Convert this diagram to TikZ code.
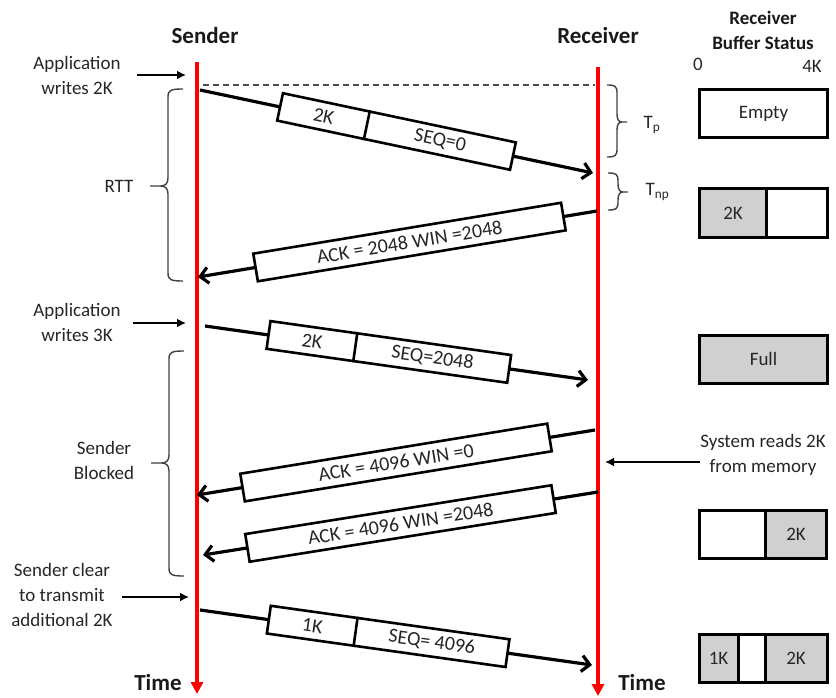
\documentclass[tikz,border=0pt]{standalone}
\usepackage{fontspec}
\setmainfont{Carlito}
\usetikzlibrary{arrows.meta,calc}
\definecolor{bufgray}{RGB}{208,208,208}
\newcommand\mybrace[6]{%
  \draw[brc] (#1,#2) .. controls ({#1+0.8*(#5)},#2) and ({#1+(#5)},{#2+1}) .. ({#1+(#5)},{#2+8})
    -- ({#1+(#5)},{#4-8}) .. controls ({#1+(#5)},{#4-2}) and ({#1+1.2*(#5)},#4) .. ({#1+1.5*(#5)},#4)
    -- ({#1+(#6)},#4) -- ({#1+1.5*(#5)},#4)
    .. controls ({#1+1.2*(#5)},#4) and ({#1+(#5)},{#4+2}) .. ({#1+(#5)},{#4+8})
    -- ({#1+(#5)},{#3-8}) .. controls ({#1+(#5)},{#3-1}) and ({#1+0.8*(#5)},#3) .. (#1,#3);}
\begin{document}
\begin{tikzpicture}[x=1pt,y=-1pt,
  lifeline/.style={draw=red, line width=3.5pt, -{Triangle[length=12pt,width=12pt]}},
  msg/.style={line width=3.2pt, -{Straight Barb[length=8pt,width=16pt]}},
  pkt/.style={draw, line width=2.6pt, fill=white, minimum height=28pt, inner sep=0pt,
              font=\fontsize{20}{24}\selectfont, text=black!85, sloped},
  pkttxt/.style={inner sep=1pt, font=\fontsize{20}{24}\selectfont, text=black!85, sloped},
  lbl/.style={font=\fontsize{19}{25}\selectfont, align=center, text=black!85},
  ttl/.style={font=\bfseries\fontsize{23}{28}\selectfont, text=black!90},
  note/.style={line width=1.8pt, -{Latex[length=9pt,width=9pt]}},
  brc/.style={draw=black!75, line width=1.4pt},
  buf/.style={draw, line width=3pt, minimum height=48pt, inner sep=0pt,
              font=\fontsize{19}{24}\selectfont, text=black!85}]
\useasboundingbox (0,0) rectangle (836,698);

% titles
\node[ttl] (tsend) at (205,36) {Sender};
\node[ttl] (trecv) at (598,36) {Receiver};
\node[ttl] (time1) at (158,683) {Time};
\node[ttl] (time2) at (642,683) {Time};
\node[font=\bfseries\fontsize{19}{25}\selectfont, align=center, text=black!90] (bhead) at (763,30) {Receiver\\Buffer Status};
\node[font=\fontsize{19}{24}\selectfont, text=black!85] (b0) at (698,64) {0};
\node[font=\fontsize{19}{24}\selectfont, text=black!85] (b4k) at (812,66) {4K};

% lifelines
\coordinate (s0) at (197,62); \coordinate (s9) at (197,694);
\coordinate (r0) at (598,67); \coordinate (r9) at (598,696);
\draw[lifeline] (s0) -- (s9);
\draw[lifeline] (r0) -- (r9);

% dashed reference line
\coordinate (d1) at (203,85); \coordinate (d2) at (595,85);
\draw[dashed, dash pattern=on 6pt off 4pt, line width=1.3pt, black!70] (d1) -- (d2);

% message 1
\coordinate (m1a) at (200,90); \coordinate (m1b) at (593,173);
\draw[msg] (m1a) -- (m1b) node[pkt, pos=0.5, minimum width=238pt] (p1) {}
  node[pkttxt, pos=0.3146] (p1a) {2K}
  node[pkttxt, pos=0.6108] (p1b) {SEQ=0};
\draw[line width=2.6pt] ($(p1.north west)!0.374!(p1.north east)$) -- ($(p1.south west)!0.374!(p1.south east)$);

% message 2
\coordinate (m2a) at (597,211); \coordinate (m2b) at (198,277);
\draw[msg] (m2a) -- (m2b) node[pkt, pos=0.47, minimum width=312pt] (p2) {ACK = 2048 WIN =2048};

% message 3
\coordinate (m3a) at (205,326); \coordinate (m3b) at (588,380);
\draw[msg] (m3a) -- (m3b) node[pkt, pos=0.48, minimum width=243pt] (p3) {}
  node[pkttxt, pos=0.2797] (p3a) {2K}
  node[pkttxt, pos=0.5938] (p3b) {SEQ=2048};
\draw[line width=2.6pt] ($(p3.north west)!0.362!(p3.north east)$) -- ($(p3.south west)!0.362!(p3.south east)$);

% message 4
\coordinate (m4a) at (595,430); \coordinate (m4b) at (197,495);
\draw[msg] (m4a) -- (m4b) node[pkt, pos=0.5, minimum width=311pt] (p4) {ACK = 4096 WIN =0};

% message 5
\coordinate (m5a) at (598,492); \coordinate (m5b) at (203,555);
\draw[msg] (m5a) -- (m5b) node[pkt, pos=0.5, minimum width=310pt] (p5) {ACK = 4096 WIN =2048};

% message 6
\coordinate (m6a) at (200,610); \coordinate (m6b) at (592,665);
\draw[msg] (m6a) -- (m6b) node[pkt, pos=0.48, minimum width=241pt] (p6) {}
  node[pkttxt, pos=0.2868] (p6a) {1K}
  node[pkttxt, pos=0.5912] (p6b) {SEQ= 4096};
\draw[line width=2.6pt] ($(p6.north west)!0.365!(p6.north east)$) -- ($(p6.south west)!0.365!(p6.south east)$);

% left annotations
\node[lbl] (app2) at (77,75) {Application\\writes 2K};
\coordinate (a2s) at (137,75); \coordinate (a2e) at (186,75);
\draw[note] (a2s) -- (a2e);
\node[lbl] (app3) at (77,322) {Application\\writes 3K};
\coordinate (a3s) at (133,323); \coordinate (a3e) at (186,323);
\draw[note] (a3s) -- (a3e);
\node[lbl] (clear) at (62,595) {Sender clear\\to transmit\\additional 2K};
\coordinate (a4s) at (122,597); \coordinate (a4e) at (189,597);
\draw[note] (a4s) -- (a4e);
\node[lbl] (rtt) at (119,186) {RTT};
\node[lbl] (blk) at (104,460) {Sender\\Blocked};
\mybrace{183}{89}{281}{186}{-15}{-33}
\mybrace{184}{351}{576}{463}{-15}{-33}

% right annotations
\mybrace{607}{85}{157}{122}{10}{20}
\mybrace{608}{173}{210}{192}{10}{20}
\node[lbl, anchor=west] (tp) at (640,125) {T\textsubscript{p}};
\node[lbl, anchor=west] (tnp) at (642,192) {T\textsubscript{np}};
\node[lbl] (sys) at (763,455) {System reads 2K\\from memory};
\coordinate (a5s) at (700,462); \coordinate (a5e) at (605,462);
\draw[note] (a5s) -- (a5e);

% buffer status boxes
\node[buf, minimum width=128pt] (bf1) at (763.5,113.5) {Empty};
\node[buf, minimum width=67pt, fill=bufgray] (bf2a) at (733,213) {2K};
\node[buf, minimum width=61pt] (bf2b) at (796.5,213) {};
\node[buf, minimum width=128pt, fill=bufgray] (bf3) at (763.5,359) {Full};
\node[buf, minimum width=67pt] (bf4a) at (732.5,534) {};
\node[buf, minimum width=61pt, fill=bufgray] (bf4b) at (796,534) {2K};
\node[buf, minimum width=39pt, fill=bufgray] (bf5a) at (718.5,658) {1K};
\node[buf, minimum width=27pt] (bf5b) at (751.5,658) {};
\node[buf, minimum width=62pt, fill=bufgray] (bf5c) at (796,658) {2K};
\end{tikzpicture}
\end{document}
